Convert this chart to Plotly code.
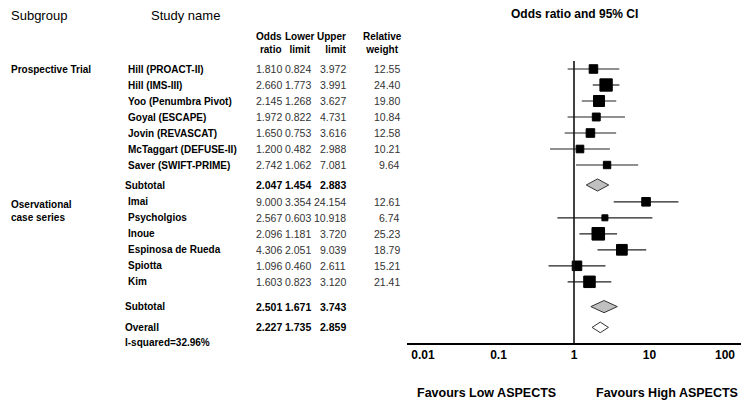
import math
import plotly.graph_objects as go

# ---------------- data ----------------
trial_names = ["Hill (PROACT-II)", "Hill (IMS-III)", "Yoo (Penumbra Pivot)", "Goyal (ESCAPE)",
               "Jovin (REVASCAT)", "McTaggart (DEFUSE-II)", "Saver (SWIFT-PRIME)"]
trial_or = [1.810, 2.660, 2.145, 1.972, 1.650, 1.200, 2.742]
trial_lo = [0.824, 1.773, 1.268, 0.822, 0.753, 0.482, 1.062]
trial_hi = [3.972, 3.991, 3.627, 4.731, 3.616, 2.988, 7.081]
trial_w = [12.55, 24.40, 19.80, 10.84, 12.58, 10.21, 9.64]
trial_sub = [2.047, 1.454, 2.883]

obs_names = ["Imai", "Psycholgios", "Inoue", "Espinosa de Rueda", "Spiotta", "Kim"]
obs_or = [9.000, 2.567, 2.096, 4.306, 1.096, 1.603]
obs_lo = [3.354, 0.603, 1.181, 2.051, 0.460, 0.823]
obs_hi = [24.154, 10.918, 3.720, 9.039, 2.611, 3.120]
obs_w = [12.61, 6.74, 25.23, 18.79, 15.21, 21.41]
obs_sub = [2.501, 1.671, 3.743]

overall = [2.227, 1.735, 2.859]
i_squared = "I-squared=32.96%"

subgroups = ["Prospective Trial", "Oservational<br>case series"]
tick_vals = [0.01, 0.1, 1, 10, 100]
tick_text = ["0.01", "0.1", "1", "10", "100"]

# ---------------- layout helpers ----------------
W, H = 741, 403
FONT = "Liberation Sans, Arial, sans-serif"
ROW = 16.0          # px per row
ROW0 = 69.0         # pixel y of first row
PLOT_TOP, PLOT_BOT = 61.0, 343.0
PLOT_LEFT = 407.0


def px(x):
    return x / W


def py(y):
    return 1 - y / H


# row positions (in row units)
trial_y = [float(i) for i in range(len(trial_names))]
sub1_y = trial_y[-1] + 1.25
obs_start = sub1_y + 1.05
obs_y = [obs_start + i for i in range(len(obs_names))]
sub2_y = obs_y[-1] + 1.55
overall_y = sub2_y + 1.3

y_range = [(PLOT_BOT - ROW0) / ROW, (PLOT_TOP - ROW0) / ROW]

all_names = trial_names + obs_names
all_or = trial_or + obs_or
all_lo = trial_lo + obs_lo
all_hi = trial_hi + obs_hi
all_w = trial_w + obs_w
all_y = trial_y + obs_y

fig = go.Figure()

# CI lines
lx, ly = [], []
for lo, hi, y in zip(all_lo, all_hi, all_y):
    lx += [lo, hi, None]
    ly += [y, y, None]
fig.add_trace(go.Scatter(x=lx, y=ly, mode="lines", line=dict(color="#222", width=1.2),
                         hoverinfo="skip", showlegend=False))

# squares
fig.add_trace(go.Scatter(x=all_or, y=all_y, mode="markers",
                         marker=dict(symbol="square", color="#000000", opacity=1,
                                     size=[2.7 * math.sqrt(w) - 1 for w in all_w],
                                     line=dict(width=1, color="#000000")),
                         text=all_names, hoverinfo="text+x", showlegend=False))


def diamond(vals, y, h, fill):
    o, lo, hi = vals
    fig.add_trace(go.Scatter(x=[lo, o, hi, o, lo], y=[y, y - h, y, y + h, y],
                             mode="lines", fill="toself", fillcolor=fill,
                             line=dict(color="#333", width=1),
                             hoverinfo="skip", showlegend=False))


diamond(trial_sub, sub1_y, 0.38, "#c0c0c0")
diamond(obs_sub, sub2_y, 0.38, "#c0c0c0")
diamond(overall, overall_y, 0.33, "white")

# vertical line of no effect
fig.add_shape(type="line", xref="x", yref="y domain", x0=1, x1=1, y0=0, y1=1,
              line=dict(color="#111", width=1.6))

ann = []


def text(x, y, s, size=10, bold=False, anchor="left", yref="y", color="black", align=None):
    ann.append(dict(x=px(x), xref="paper", y=y, yref=yref, text=s, showarrow=False,
                    xanchor=anchor, yanchor="middle", align=align or anchor,
                    font=dict(family=FONT, size=size, color=color,
                              weight="bold" if bold else "normal")))


# headers
text(9, py(15), "Subgroup", size=13, yref="paper")
text(149, py(15), "Study name", size=13, yref="paper")
text(574, py(14), "Odds ratio and 95% CI", size=12, bold=True, anchor="center", yref="paper")
text(284, py(43.5), "Odds<br>ratio", bold=True, anchor="right", yref="paper")
text(300, py(43.5), "Lower<br>limit", bold=True, anchor="center", yref="paper")
text(349, py(43.5), "Upper<br>limit", bold=True, anchor="right", yref="paper")
text(382, py(43.5), "Relative<br>weight", bold=True, anchor="center", yref="paper")

# subgroup labels
text(9, trial_y[0], subgroups[0], bold=True)
text(9, py(210.5), subgroups[1], bold=True, yref="paper")

VAL = "#333"
for name, o, lo, hi, w, y in zip(all_names, all_or, all_lo, all_hi, all_w, all_y):
    text(126, y, name, bold=True)
    text(284, y, f"{o:.3f}", size=10.5, anchor="right", color=VAL)
    text(313, y, f"{lo:.3f}", size=10.5, anchor="right", color=VAL)
    text(348, y, f"{hi:.3f}", size=10.5, anchor="right", color=VAL)
    text(402, y, f"{w:.2f}", size=10.5, anchor="right", color=VAL)

for label, vals, y in [("Subtotal", trial_sub, sub1_y), ("Subtotal", obs_sub, sub2_y),
                       ("Overall", overall, overall_y)]:
    text(123, y, label, bold=True)
    text(284, y, f"{vals[0]:.3f}", size=10.5, bold=True, anchor="right")
    text(313, y, f"{vals[1]:.3f}", size=10.5, bold=True, anchor="right")
    text(348, y, f"{vals[2]:.3f}", size=10.5, bold=True, anchor="right")

text(123, py(342), i_squared, size=10, bold=True, yref="paper")

# favours labels
text(486, py(393), "Favours Low ASPECTS", size=12.5, bold=True, anchor="center", yref="paper")
text(667, py(393), "Favours High ASPECTS", size=12.5, bold=True, anchor="center", yref="paper")

xr = [-(574 - PLOT_LEFT) / 75.5, (W - 574) / 75.5]

fig.update_layout(
    width=W, height=H, margin=dict(l=0, r=0, t=0, b=0),
    paper_bgcolor="white", plot_bgcolor="white",
    annotations=ann,
    xaxis=dict(type="log", range=xr, domain=[px(PLOT_LEFT), 1],
               tickvals=tick_vals, ticktext=tick_text, ticks="",
               showgrid=False, zeroline=False, showline=True,
               linecolor="black", linewidth=1.5,
               tickfont=dict(family=FONT, size=12, color="black", weight="bold")),
    yaxis=dict(range=y_range, domain=[py(PLOT_BOT), py(PLOT_TOP)],
               visible=False, showgrid=False, zeroline=False),
)

fig.write_html("out.html")
